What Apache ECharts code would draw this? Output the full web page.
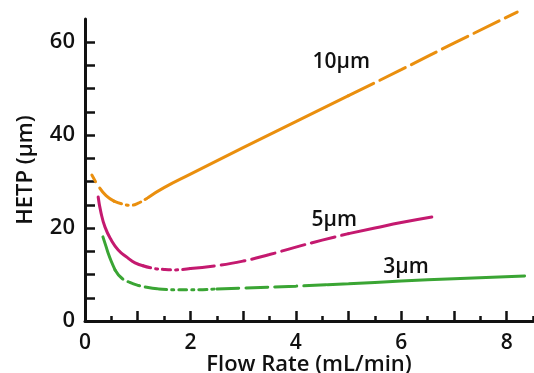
<!DOCTYPE html>
<html>
<head>
<meta charset="utf-8">
<script src="https://cdn.jsdelivr.net/npm/echarts@6/dist/echarts.min.js"></script>
<style>
  html, body { margin: 0; padding: 0; background: #fff; }
  #chart { width: 534px; height: 373px; }
</style>
</head>
<body>
<div id="chart"></div>
<script>
// --- data ---
var flow10 = [0.13, 0.2, 0.28, 0.4, 0.55, 0.7, 0.85, 1.0, 1.2, 1.5, 2.0, 3, 4, 5, 6, 7, 8.2];
var hetp10 = [31.4, 30, 28.6, 27, 25.8, 25.2, 24.9, 25.3, 26.6, 28.7, 31.6, 37.3, 42.9, 48.5, 54.1, 59.8, 66.5];

var flow5 = [0.25, 0.3, 0.38, 0.5, 0.63, 0.8, 0.95, 1.1, 1.27, 1.5, 1.7, 2.0, 2.5, 3, 3.5, 4, 4.5, 5, 5.5, 6, 6.58];
var hetp5 = [26.7, 23.5, 20.2, 17.4, 15.3, 13.7, 12.5, 11.9, 11.4, 11.1, 11, 11.3, 11.9, 12.9, 14.3, 15.9, 17.4, 18.8, 20, 21.2, 22.4];

var flow3 = [0.34, 0.4, 0.44, 0.5, 0.57, 0.7, 0.85, 1, 1.2, 1.4, 1.7, 2, 2.5, 3, 4, 4.6, 5, 6, 7, 8.34];
var hetp3 = [18.1, 16, 14.6, 12.8, 11, 9.2, 8.3, 7.7, 7.2, 6.9, 6.7, 6.7, 6.9, 7.1, 7.5, 7.8, 8.0, 8.6, 9.1, 9.7];

var curveNames = ['10\u03bcm', '5\u03bcm', '3\u03bcm'];
var curveLabelAt = [[4.87, 55.7], [4.74, 21.7], [6.1, 11.6]];

var xLabelValues = [0, 2, 4, 6, 8];
var xMajorTicks = [0, 1, 2, 3, 4, 5, 6, 7, 8];
var xMinorTicks = [0.5, 1.5, 2.5, 3.5, 4.5, 5.5, 6.5, 7.5, 8.5];
var yLabelValues = [0, 20, 40, 60];
var yTicks = [0, 5, 10, 15, 20, 25, 30, 35, 40, 45, 50, 55, 60];

// --- styling ---
var orange = '#ea8f0e';
var magenta = '#c4196f';
var green = '#3aa534';
var ink = '#111';
var font = '"Open Sans", "DejaVu Sans", sans-serif';
var dashDot = [8, 5, 2, 5];

function pick(xs, ys, from, to) {
  var out = [];
  for (var i = 0; i < xs.length; i++) {
    if (xs[i] >= from && xs[i] <= to) out.push([xs[i], ys[i]]);
  }
  return out;
}

function seg(xs, ys, from, to, color, dash) {
  return {
    type: 'line',
    smooth: true,
    showSymbol: false,
    clip: false,
    data: pick(xs, ys, from, to),
    lineStyle: { color: color, width: 3, type: dash, cap: 'round' }
  };
}

var series = [
  // 10 um
  seg(flow10, hetp10, 0.13, 0.2, orange, 'solid'),
  seg(flow10, hetp10, 0.28, 0.55, orange, 'solid'),
  seg(flow10, hetp10, 0.55, 1.2, orange, dashDot),
  seg(flow10, hetp10, 1.2, 5, orange, 'solid'),
  seg(flow10, hetp10, 5, 8.2, orange, [28, 7]),
  // 5 um
  seg(flow5, hetp5, 0.25, 1.1, magenta, 'solid'),
  seg(flow5, hetp5, 1.1, 2.0, magenta, dashDot),
  seg(flow5, hetp5, 2.0, 5, magenta, [24, 7]),
  seg(flow5, hetp5, 5, 6.58, magenta, 'solid'),
  // 3 um
  seg(flow3, hetp3, 0.34, 0.57, green, 'solid'),
  seg(flow3, hetp3, 0.57, 1.4, green, [12, 6]),
  seg(flow3, hetp3, 1.4, 2.5, green, dashDot),
  seg(flow3, hetp3, 2.5, 4.6, green, [22, 7]),
  seg(flow3, hetp3, 4.6, 8.34, green, 'solid'),
  // curve names
  {
    type: 'scatter',
    symbolSize: 1,
    itemStyle: { color: 'rgba(0,0,0,0)', opacity: 1 },
    data: curveNames.map(function(n, i) { return { name: n, value: curveLabelAt[i] }; }),
    label: {
      show: true,
      position: [0, 0],
      align: 'center',
      verticalAlign: 'middle',
      formatter: '{b}',
      color: ink,
      textBorderWidth: 0,
      fontFamily: font,
      fontWeight: 600,
      fontSize: 21
    }
  }
];

var chart = echarts.init(document.getElementById('chart'), null, { renderer: 'canvas' });
chart.setOption({
  animation: false,
  grid: { left: 85, right: 1, top: 19, bottom: 52, containLabel: false, outerBoundsMode: 'none' },
  xAxis: [{
    type: 'value',
    min: 0,
    max: 8.5,
    name: 'Flow Rate (mL/min)',
    nameLocation: 'middle',
    nameGap: 33,
    nameMoveOverlap: false,
    nameTextStyle: { color: ink, fontFamily: font, fontWeight: 600, fontSize: 22 },
    axisLine: { show: true, onZero: false, lineStyle: { color: ink, width: 3 } },
    axisTick: { show: true, inside: true, length: 10, customValues: xMajorTicks, lineStyle: { color: ink, width: 2.5 } },
    axisLabel: { show: true, customValues: xLabelValues, margin: 12, color: ink, fontFamily: font, fontWeight: 600, fontSize: 21 },
    splitLine: { show: false }
  }, {
    type: 'value',
    min: 0,
    max: 8.5,
    position: 'bottom',
    axisLine: { show: false, onZero: false },
    axisTick: { show: true, inside: true, length: 5, customValues: xMinorTicks, lineStyle: { color: ink, width: 2.5 } },
    axisLabel: { show: false },
    splitLine: { show: false }
  }],
  yAxis: {
    type: 'value',
    min: 0,
    max: 65,
    name: 'HETP (\u03bcm)',
    nameLocation: 'middle',
    nameGap: 48,
    nameMoveOverlap: false,
    nameTextStyle: { color: ink, fontFamily: font, fontWeight: 600, fontSize: 22 },
    axisLine: { show: true, onZero: false, lineStyle: { color: ink, width: 3 } },
    axisTick: { show: true, inside: true, length: 10, customValues: yTicks, lineStyle: { color: ink, width: 2.5 } },
    axisLabel: { show: true, customValues: yLabelValues, margin: 10, color: ink, fontFamily: font, fontWeight: 600, fontSize: 22 },
    splitLine: { show: false }
  },
  series: series
});
</script>
</body>
</html>
